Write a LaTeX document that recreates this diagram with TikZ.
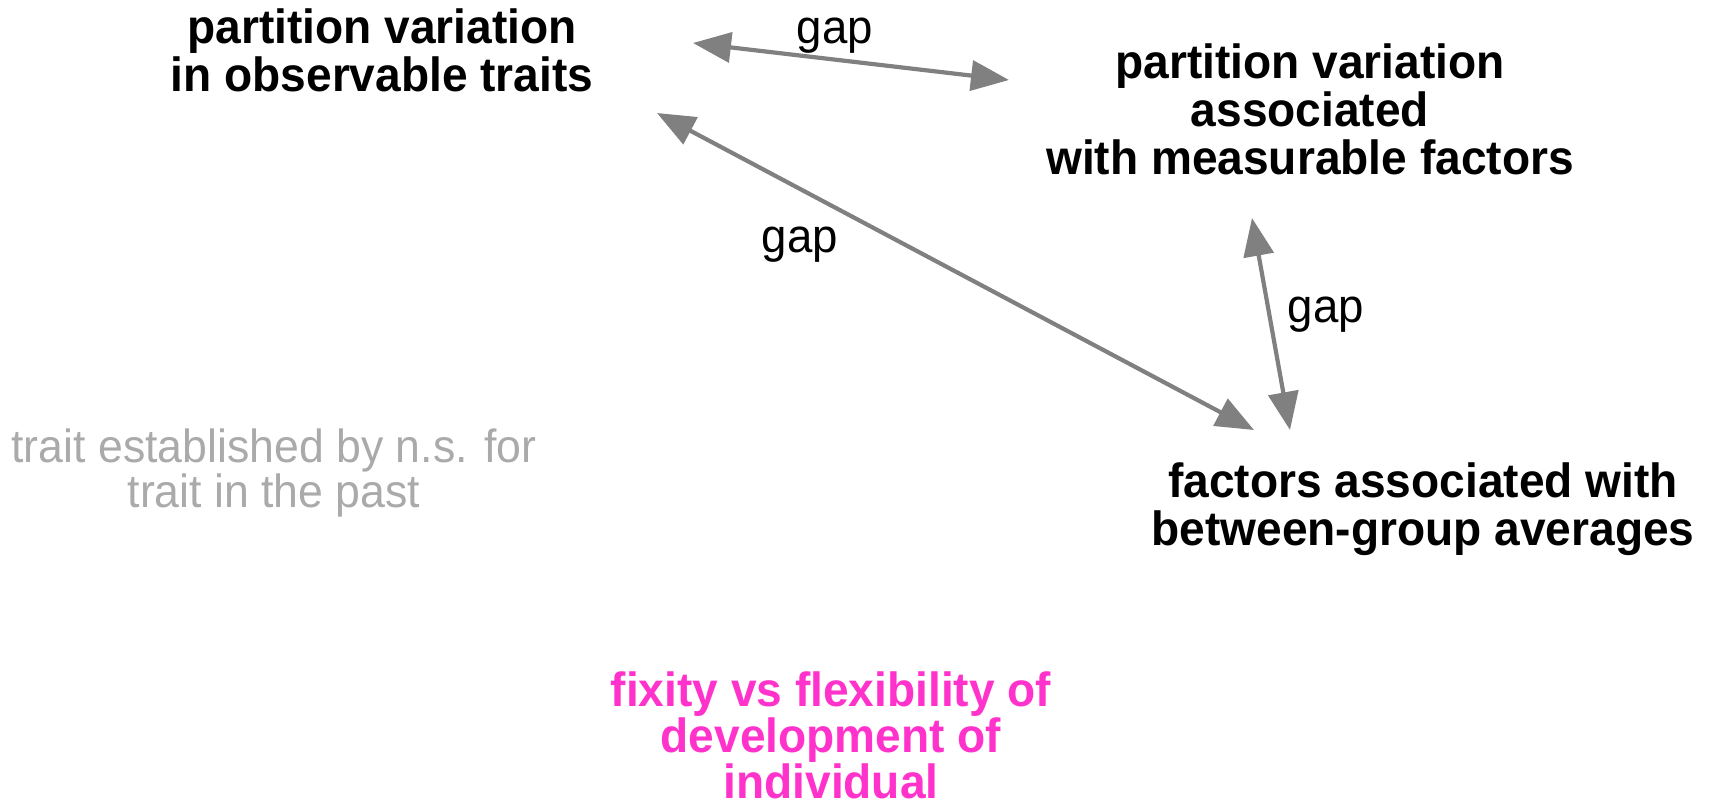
\documentclass[tikz,border=0pt]{standalone}
\usepackage{fontspec}
\setmainfont{Liberation Sans}
\newfontfamily\talltext[FakeStretch=0.96]{Liberation Sans}
\usetikzlibrary{arrows.meta}
\definecolor{edgegray}{RGB}{128,128,128}
\definecolor{notegray}{RGB}{170,170,170}
\definecolor{pinkish}{RGB}{255,51,204}
\tikzset{
  mainnode/.style={align=center, font=\talltext\fontsize{48}{48}\selectfont\bfseries, inner sep=0pt},
  notenode/.style={align=center, font=\talltext\fontsize{46.5}{45}\selectfont, text=notegray, inner sep=0pt},
  pinknode/.style={align=center, font=\talltext\fontsize{48}{46}\selectfont\bfseries, text=pinkish, inner sep=0pt},
  gaplabel/.style={font=\talltext\fontsize{47.5}{46}\selectfont, inner sep=0pt},
  gapedge/.style={draw=edgegray, line width=4.2pt,
    {Triangle[length=38pt,width=30pt]}-{Triangle[length=38pt,width=30pt]}}
}
\begin{document}
\begin{tikzpicture}[x=1pt,y=-1pt]
\useasboundingbox (0,0) rectangle (1717,804);
\node[mainnode] (obs) at (382,50) {partition variation\\in observable traits};
\node[mainnode] (meas) at (1310,109) {partition variation\\associated\\with measurable factors};
\node[mainnode] (fact) at (1423,509) {factors associated with\\between-group averages};
\node[notenode] (past) at (274,473) {trait established by n.s. for\\trait in the past};
\node[pinknode] (fix) at (831,735) {fixity vs flexibility of\\development of\\individual};
\coordinate (e1a) at (693,43);
\coordinate (e1b) at (1009,80);
\coordinate (e2a) at (657,113);
\coordinate (e2b) at (1254,430);
\coordinate (e3a) at (1252,218);
\coordinate (e3b) at (1290,430);
\draw[gapedge] (e1a) -- (e1b);
\draw[gapedge] (e2a) -- (e2b);
\draw[gapedge] (e3a) -- (e3b);
\node[gaplabel] (g1) at (835,36) {gap};
\node[gaplabel] (g2) at (800,245) {gap};
\node[gaplabel] (g3) at (1326,315) {gap};
\end{tikzpicture}
\end{document}
